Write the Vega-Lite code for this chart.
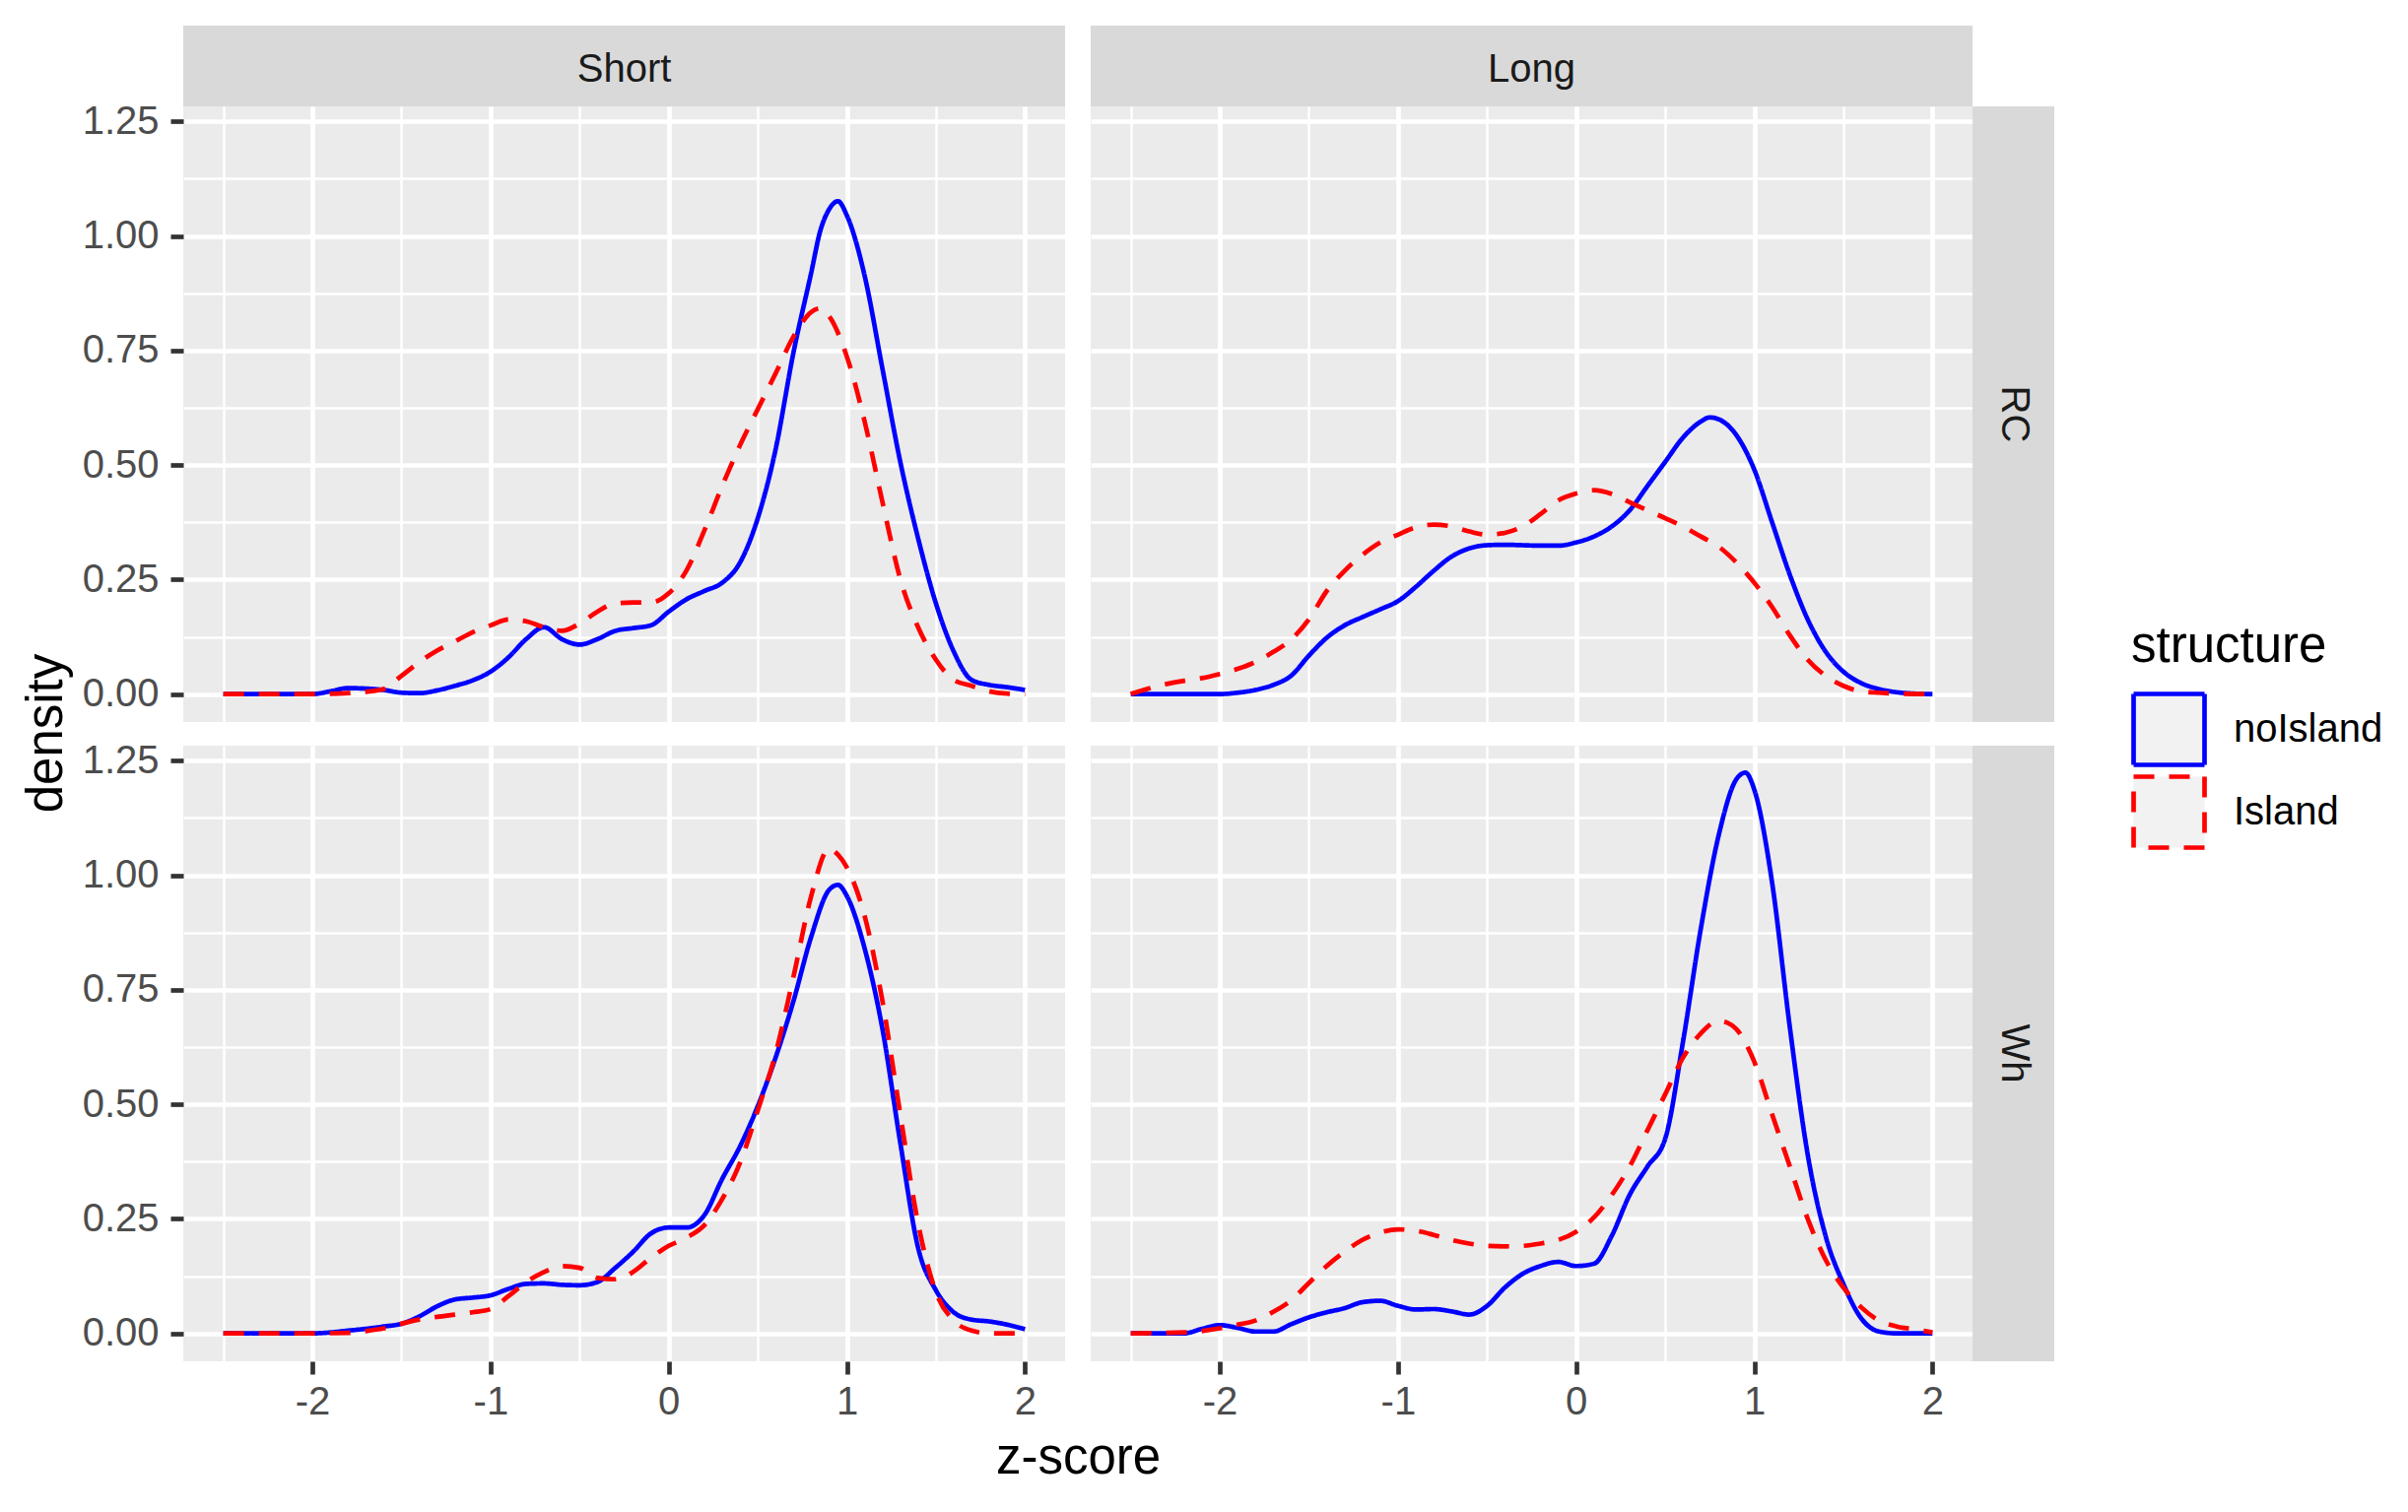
{
  "$schema": "https://vega.github.io/schema/vega-lite/v6.json",
  "padding": {"left": 21, "top": 26, "right": 0, "bottom": 0},
  "background": "white",
  "config": {
    "view": {"stroke": null},
    "font": "Liberation Sans",
    "axis": {
      "domain": false,
      "gridColor": "#FFFFFF",
      "gridOpacity": 1,
      "labelFont": "Liberation Sans",
      "labelFontSize": 40,
      "labelColor": "#4D4D4D",
      "tickColor": "#333333",
      "tickWidth": 4.7,
      "tickSize": 13,
      "titleFont": "Liberation Sans",
      "titleFontSize": 51,
      "titleFontWeight": "normal",
      "titleColor": "#000000"
    },
    "legend": {
      "orient": "none",
      "legendX": 1977,
      "legendY": 606,
      "padding": 0,
      "titleFont": "Liberation Sans",
      "titleFontSize": 51,
      "titleFontWeight": "normal",
      "titleColor": "#000000",
      "titlePadding": 19,
      "titleLimit": 600,
      "labelLimit": 600,
      "labelFont": "Liberation Sans",
      "labelFontSize": 40,
      "labelColor": "#000000",
      "labelOffset": 27,
      "symbolType": "square",
      "symbolSize": 5184,
      "symbolStrokeWidth": 4.7,
      "symbolFillColor": "#F2F2F2",
      "rowPadding": -11
    }
  },
  "datasets": {
    "short_rc": [
      {"structure":"noIsland","z":-2.5,"density":0},{"structure":"noIsland","z":-2.0,"density":0},{"structure":"noIsland","z":-1.9,"density":0.006},{"structure":"noIsland","z":-1.8,"density":0.013},{"structure":"noIsland","z":-1.7,"density":0.012},{"structure":"noIsland","z":-1.6,"density":0.009},{"structure":"noIsland","z":-1.5,"density":0.003},{"structure":"noIsland","z":-1.4,"density":0.002},{"structure":"noIsland","z":-1.3,"density":0.008},{"structure":"noIsland","z":-1.2,"density":0.018},{"structure":"noIsland","z":-1.1,"density":0.03},{"structure":"noIsland","z":-1.0,"density":0.049},{"structure":"noIsland","z":-0.9,"density":0.08},{"structure":"noIsland","z":-0.8,"density":0.12},{"structure":"noIsland","z":-0.7,"density":0.146},{"structure":"noIsland","z":-0.6,"density":0.12},{"structure":"noIsland","z":-0.5,"density":0.108},{"structure":"noIsland","z":-0.4,"density":0.12},{"structure":"noIsland","z":-0.3,"density":0.138},{"structure":"noIsland","z":-0.2,"density":0.144},{"structure":"noIsland","z":-0.1,"density":0.15},{"structure":"noIsland","z":0.0,"density":0.18},{"structure":"noIsland","z":0.1,"density":0.207},{"structure":"noIsland","z":0.2,"density":0.225},{"structure":"noIsland","z":0.3,"density":0.243},{"structure":"noIsland","z":0.4,"density":0.287},{"structure":"noIsland","z":0.5,"density":0.384},{"structure":"noIsland","z":0.6,"density":0.534},{"structure":"noIsland","z":0.7,"density":0.745},{"structure":"noIsland","z":0.8,"density":0.92},{"structure":"noIsland","z":0.85,"density":1.01},{"structure":"noIsland","z":0.9,"density":1.058},{"structure":"noIsland","z":0.95,"density":1.076},{"structure":"noIsland","z":1.0,"density":1.045},{"structure":"noIsland","z":1.1,"density":0.913},{"structure":"noIsland","z":1.2,"density":0.71},{"structure":"noIsland","z":1.3,"density":0.507},{"structure":"noIsland","z":1.4,"density":0.34},{"structure":"noIsland","z":1.5,"density":0.198},{"structure":"noIsland","z":1.6,"density":0.093},{"structure":"noIsland","z":1.7,"density":0.031},{"structure":"noIsland","z":1.8,"density":0.02},{"structure":"noIsland","z":1.9,"density":0.015},{"structure":"noIsland","z":2.0,"density":0.009},
      {"structure":"Island","z":-2.5,"density":0},{"structure":"Island","z":-2.0,"density":0},{"structure":"Island","z":-1.8,"density":0.002},{"structure":"Island","z":-1.7,"density":0.005},{"structure":"Island","z":-1.6,"density":0.011},{"structure":"Island","z":-1.5,"density":0.04},{"structure":"Island","z":-1.4,"density":0.07},{"structure":"Island","z":-1.3,"density":0.095},{"structure":"Island","z":-1.2,"density":0.115},{"structure":"Island","z":-1.1,"density":0.135},{"structure":"Island","z":-1.0,"density":0.15},{"structure":"Island","z":-0.9,"density":0.163},{"structure":"Island","z":-0.8,"density":0.159},{"structure":"Island","z":-0.7,"density":0.146},{"structure":"Island","z":-0.6,"density":0.138},{"structure":"Island","z":-0.5,"density":0.154},{"structure":"Island","z":-0.4,"density":0.18},{"structure":"Island","z":-0.3,"density":0.198},{"structure":"Island","z":-0.2,"density":0.2},{"structure":"Island","z":-0.1,"density":0.2},{"structure":"Island","z":0.0,"density":0.22},{"structure":"Island","z":0.1,"density":0.27},{"structure":"Island","z":0.2,"density":0.357},{"structure":"Island","z":0.3,"density":0.454},{"structure":"Island","z":0.4,"density":0.543},{"structure":"Island","z":0.5,"density":0.622},{"structure":"Island","z":0.6,"density":0.7},{"structure":"Island","z":0.7,"density":0.78},{"structure":"Island","z":0.8,"density":0.834},{"structure":"Island","z":0.85,"density":0.842},{"structure":"Island","z":0.9,"density":0.825},{"structure":"Island","z":1.0,"density":0.737},{"structure":"Island","z":1.1,"density":0.595},{"structure":"Island","z":1.2,"density":0.419},{"structure":"Island","z":1.3,"density":0.251},{"structure":"Island","z":1.4,"density":0.146},{"structure":"Island","z":1.5,"density":0.075},{"structure":"Island","z":1.6,"density":0.031},{"structure":"Island","z":1.7,"density":0.018},{"structure":"Island","z":1.8,"density":0.006},{"structure":"Island","z":1.9,"density":0.001},{"structure":"Island","z":2.0,"density":0}
    ],
    "long_rc": [
      {"structure":"noIsland","z":-2.5,"density":0},{"structure":"noIsland","z":-2.0,"density":0},{"structure":"noIsland","z":-1.9,"density":0.003},{"structure":"noIsland","z":-1.8,"density":0.009},{"structure":"noIsland","z":-1.7,"density":0.02},{"structure":"noIsland","z":-1.6,"density":0.04},{"structure":"noIsland","z":-1.5,"density":0.084},{"structure":"noIsland","z":-1.4,"density":0.123},{"structure":"noIsland","z":-1.3,"density":0.15},{"structure":"noIsland","z":-1.2,"density":0.168},{"structure":"noIsland","z":-1.1,"density":0.185},{"structure":"noIsland","z":-1.0,"density":0.203},{"structure":"noIsland","z":-0.9,"density":0.234},{"structure":"noIsland","z":-0.8,"density":0.269},{"structure":"noIsland","z":-0.7,"density":0.3},{"structure":"noIsland","z":-0.6,"density":0.318},{"structure":"noIsland","z":-0.5,"density":0.325},{"structure":"noIsland","z":-0.4,"density":0.326},{"structure":"noIsland","z":-0.3,"density":0.325},{"structure":"noIsland","z":-0.2,"density":0.324},{"structure":"noIsland","z":-0.1,"density":0.324},{"structure":"noIsland","z":0.0,"density":0.331},{"structure":"noIsland","z":0.1,"density":0.344},{"structure":"noIsland","z":0.2,"density":0.366},{"structure":"noIsland","z":0.3,"density":0.401},{"structure":"noIsland","z":0.4,"density":0.454},{"structure":"noIsland","z":0.5,"density":0.507},{"structure":"noIsland","z":0.6,"density":0.56},{"structure":"noIsland","z":0.7,"density":0.595},{"structure":"noIsland","z":0.75,"density":0.604},{"structure":"noIsland","z":0.8,"density":0.6},{"structure":"noIsland","z":0.9,"density":0.565},{"structure":"noIsland","z":1.0,"density":0.49},{"structure":"noIsland","z":1.1,"density":0.375},{"structure":"noIsland","z":1.2,"density":0.26},{"structure":"noIsland","z":1.3,"density":0.163},{"structure":"noIsland","z":1.4,"density":0.093},{"structure":"noIsland","z":1.5,"density":0.049},{"structure":"noIsland","z":1.6,"density":0.024},{"structure":"noIsland","z":1.7,"density":0.011},{"structure":"noIsland","z":1.8,"density":0.004},{"structure":"noIsland","z":1.9,"density":0.001},{"structure":"noIsland","z":2.0,"density":0},
      {"structure":"Island","z":-2.5,"density":0},{"structure":"Island","z":-2.4,"density":0.012},{"structure":"Island","z":-2.3,"density":0.022},{"structure":"Island","z":-2.2,"density":0.029},{"structure":"Island","z":-2.1,"density":0.035},{"structure":"Island","z":-2.0,"density":0.044},{"structure":"Island","z":-1.9,"density":0.055},{"structure":"Island","z":-1.8,"density":0.07},{"structure":"Island","z":-1.7,"density":0.092},{"structure":"Island","z":-1.6,"density":0.119},{"structure":"Island","z":-1.5,"density":0.163},{"structure":"Island","z":-1.4,"density":0.225},{"structure":"Island","z":-1.3,"density":0.269},{"structure":"Island","z":-1.2,"density":0.304},{"structure":"Island","z":-1.1,"density":0.331},{"structure":"Island","z":-1.0,"density":0.348},{"structure":"Island","z":-0.9,"density":0.364},{"structure":"Island","z":-0.8,"density":0.37},{"structure":"Island","z":-0.7,"density":0.366},{"structure":"Island","z":-0.6,"density":0.355},{"structure":"Island","z":-0.5,"density":0.348},{"structure":"Island","z":-0.4,"density":0.352},{"structure":"Island","z":-0.3,"density":0.366},{"structure":"Island","z":-0.2,"density":0.393},{"structure":"Island","z":-0.1,"density":0.423},{"structure":"Island","z":0.0,"density":0.438},{"structure":"Island","z":0.1,"density":0.445},{"structure":"Island","z":0.2,"density":0.437},{"structure":"Island","z":0.3,"density":0.419},{"structure":"Island","z":0.4,"density":0.401},{"structure":"Island","z":0.5,"density":0.384},{"structure":"Island","z":0.6,"density":0.366},{"structure":"Island","z":0.7,"density":0.344},{"structure":"Island","z":0.8,"density":0.322},{"structure":"Island","z":0.9,"density":0.287},{"structure":"Island","z":1.0,"density":0.243},{"structure":"Island","z":1.1,"density":0.19},{"structure":"Island","z":1.2,"density":0.128},{"structure":"Island","z":1.3,"density":0.075},{"structure":"Island","z":1.4,"density":0.04},{"structure":"Island","z":1.5,"density":0.018},{"structure":"Island","z":1.6,"density":0.006},{"structure":"Island","z":1.7,"density":0.003},{"structure":"Island","z":1.8,"density":0.001},{"structure":"Island","z":2.0,"density":0}
    ],
    "short_wh": [
      {"structure":"noIsland","z":-2.5,"density":0},{"structure":"noIsland","z":-2.0,"density":0},{"structure":"noIsland","z":-1.9,"density":0.002},{"structure":"noIsland","z":-1.8,"density":0.006},{"structure":"noIsland","z":-1.7,"density":0.01},{"structure":"noIsland","z":-1.6,"density":0.015},{"structure":"noIsland","z":-1.5,"density":0.021},{"structure":"noIsland","z":-1.4,"density":0.037},{"structure":"noIsland","z":-1.3,"density":0.059},{"structure":"noIsland","z":-1.2,"density":0.074},{"structure":"noIsland","z":-1.1,"density":0.078},{"structure":"noIsland","z":-1.0,"density":0.083},{"structure":"noIsland","z":-0.9,"density":0.097},{"structure":"noIsland","z":-0.8,"density":0.108},{"structure":"noIsland","z":-0.7,"density":0.109},{"structure":"noIsland","z":-0.6,"density":0.106},{"structure":"noIsland","z":-0.5,"density":0.105},{"structure":"noIsland","z":-0.4,"density":0.112},{"structure":"noIsland","z":-0.3,"density":0.143},{"structure":"noIsland","z":-0.2,"density":0.178},{"structure":"noIsland","z":-0.1,"density":0.218},{"structure":"noIsland","z":0.0,"density":0.231},{"structure":"noIsland","z":0.1,"density":0.231},{"structure":"noIsland","z":0.2,"density":0.258},{"structure":"noIsland","z":0.3,"density":0.337},{"structure":"noIsland","z":0.4,"density":0.408},{"structure":"noIsland","z":0.5,"density":0.496},{"structure":"noIsland","z":0.6,"density":0.602},{"structure":"noIsland","z":0.7,"density":0.725},{"structure":"noIsland","z":0.8,"density":0.866},{"structure":"noIsland","z":0.9,"density":0.968},{"structure":"noIsland","z":0.95,"density":0.979},{"structure":"noIsland","z":1.0,"density":0.955},{"structure":"noIsland","z":1.1,"density":0.84},{"structure":"noIsland","z":1.2,"density":0.664},{"structure":"noIsland","z":1.3,"density":0.416},{"structure":"noIsland","z":1.4,"density":0.187},{"structure":"noIsland","z":1.5,"density":0.094},{"structure":"noIsland","z":1.6,"density":0.046},{"structure":"noIsland","z":1.7,"density":0.03},{"structure":"noIsland","z":1.8,"density":0.026},{"structure":"noIsland","z":1.9,"density":0.019},{"structure":"noIsland","z":2.0,"density":0.009},
      {"structure":"Island","z":-2.5,"density":0},{"structure":"Island","z":-2.0,"density":0},{"structure":"Island","z":-1.8,"density":0.001},{"structure":"Island","z":-1.7,"density":0.005},{"structure":"Island","z":-1.6,"density":0.011},{"structure":"Island","z":-1.5,"density":0.021},{"structure":"Island","z":-1.4,"density":0.03},{"structure":"Island","z":-1.3,"density":0.036},{"structure":"Island","z":-1.2,"density":0.041},{"structure":"Island","z":-1.1,"density":0.046},{"structure":"Island","z":-1.0,"density":0.053},{"structure":"Island","z":-0.9,"density":0.081},{"structure":"Island","z":-0.8,"density":0.112},{"structure":"Island","z":-0.7,"density":0.134},{"structure":"Island","z":-0.6,"density":0.147},{"structure":"Island","z":-0.5,"density":0.143},{"structure":"Island","z":-0.4,"density":0.121},{"structure":"Island","z":-0.3,"density":0.118},{"structure":"Island","z":-0.2,"density":0.134},{"structure":"Island","z":-0.1,"density":0.165},{"structure":"Island","z":0.0,"density":0.191},{"structure":"Island","z":0.1,"density":0.209},{"structure":"Island","z":0.2,"density":0.236},{"structure":"Island","z":0.3,"density":0.293},{"structure":"Island","z":0.4,"density":0.372},{"structure":"Island","z":0.5,"density":0.487},{"structure":"Island","z":0.6,"density":0.611},{"structure":"Island","z":0.7,"density":0.778},{"structure":"Island","z":0.8,"density":0.955},{"structure":"Island","z":0.9,"density":1.058},{"structure":"Island","z":0.95,"density":1.045},{"structure":"Island","z":1.0,"density":1.017},{"structure":"Island","z":1.1,"density":0.911},{"structure":"Island","z":1.2,"density":0.725},{"structure":"Island","z":1.3,"density":0.478},{"structure":"Island","z":1.4,"density":0.24},{"structure":"Island","z":1.5,"density":0.09},{"structure":"Island","z":1.6,"density":0.028},{"structure":"Island","z":1.7,"density":0.006},{"structure":"Island","z":1.8,"density":0},{"structure":"Island","z":2.0,"density":0}
    ],
    "long_wh": [
      {"structure":"noIsland","z":-2.5,"density":0},{"structure":"noIsland","z":-2.2,"density":0},{"structure":"noIsland","z":-2.1,"density":0.01},{"structure":"noIsland","z":-2.0,"density":0.018},{"structure":"noIsland","z":-1.9,"density":0.012},{"structure":"noIsland","z":-1.8,"density":0.004},{"structure":"noIsland","z":-1.7,"density":0.004},{"structure":"noIsland","z":-1.6,"density":0.02},{"structure":"noIsland","z":-1.5,"density":0.035},{"structure":"noIsland","z":-1.4,"density":0.046},{"structure":"noIsland","z":-1.3,"density":0.055},{"structure":"noIsland","z":-1.2,"density":0.068},{"structure":"noIsland","z":-1.1,"density":0.071},{"structure":"noIsland","z":-1.0,"density":0.06},{"structure":"noIsland","z":-0.9,"density":0.052},{"structure":"noIsland","z":-0.8,"density":0.053},{"structure":"noIsland","z":-0.7,"density":0.048},{"structure":"noIsland","z":-0.6,"density":0.041},{"structure":"noIsland","z":-0.5,"density":0.06},{"structure":"noIsland","z":-0.4,"density":0.1},{"structure":"noIsland","z":-0.3,"density":0.13},{"structure":"noIsland","z":-0.2,"density":0.147},{"structure":"noIsland","z":-0.1,"density":0.156},{"structure":"noIsland","z":0.0,"density":0.147},{"structure":"noIsland","z":0.1,"density":0.152},{"structure":"noIsland","z":0.2,"density":0.213},{"structure":"noIsland","z":0.3,"density":0.302},{"structure":"noIsland","z":0.4,"density":0.364},{"structure":"noIsland","z":0.5,"density":0.425},{"structure":"noIsland","z":0.6,"density":0.637},{"structure":"noIsland","z":0.7,"density":0.884},{"structure":"noIsland","z":0.8,"density":1.087},{"structure":"noIsland","z":0.9,"density":1.21},{"structure":"noIsland","z":0.95,"density":1.224},{"structure":"noIsland","z":1.0,"density":1.187},{"structure":"noIsland","z":1.1,"density":0.984},{"structure":"noIsland","z":1.2,"density":0.667},{"structure":"noIsland","z":1.3,"density":0.39},{"structure":"noIsland","z":1.4,"density":0.213},{"structure":"noIsland","z":1.5,"density":0.108},{"structure":"noIsland","z":1.6,"density":0.033},{"structure":"noIsland","z":1.7,"density":0.004},{"structure":"noIsland","z":1.8,"density":0},{"structure":"noIsland","z":2.0,"density":0},
      {"structure":"Island","z":-2.5,"density":0},{"structure":"Island","z":-2.2,"density":0.002},{"structure":"Island","z":-2.0,"density":0.011},{"structure":"Island","z":-1.9,"density":0.019},{"structure":"Island","z":-1.8,"density":0.028},{"structure":"Island","z":-1.7,"density":0.047},{"structure":"Island","z":-1.6,"density":0.072},{"structure":"Island","z":-1.5,"density":0.11},{"structure":"Island","z":-1.4,"density":0.147},{"structure":"Island","z":-1.3,"density":0.178},{"structure":"Island","z":-1.2,"density":0.204},{"structure":"Island","z":-1.1,"density":0.22},{"structure":"Island","z":-1.0,"density":0.227},{"structure":"Island","z":-0.9,"density":0.224},{"structure":"Island","z":-0.8,"density":0.215},{"structure":"Island","z":-0.7,"density":0.204},{"structure":"Island","z":-0.6,"density":0.196},{"structure":"Island","z":-0.5,"density":0.191},{"structure":"Island","z":-0.4,"density":0.19},{"structure":"Island","z":-0.3,"density":0.191},{"structure":"Island","z":-0.2,"density":0.196},{"structure":"Island","z":-0.1,"density":0.204},{"structure":"Island","z":0.0,"density":0.222},{"structure":"Island","z":0.1,"density":0.253},{"structure":"Island","z":0.2,"density":0.302},{"structure":"Island","z":0.3,"density":0.364},{"structure":"Island","z":0.4,"density":0.443},{"structure":"Island","z":0.5,"density":0.522},{"structure":"Island","z":0.6,"density":0.602},{"structure":"Island","z":0.7,"density":0.655},{"structure":"Island","z":0.8,"density":0.682},{"structure":"Island","z":0.85,"density":0.678},{"structure":"Island","z":0.9,"density":0.664},{"structure":"Island","z":1.0,"density":0.593},{"structure":"Island","z":1.1,"density":0.478},{"structure":"Island","z":1.2,"density":0.364},{"structure":"Island","z":1.3,"density":0.25},{"structure":"Island","z":1.4,"density":0.161},{"structure":"Island","z":1.5,"density":0.1},{"structure":"Island","z":1.6,"density":0.057},{"structure":"Island","z":1.7,"density":0.028},{"structure":"Island","z":1.8,"density":0.015},{"structure":"Island","z":1.9,"density":0.009},{"structure":"Island","z":2.0,"density":0.002}
    ]
  },
  "concat": [
    {"width": 895, "height": 82, "view": {"fill": "#D9D9D9", "stroke": null}, "data": {"values": [{"label": "Short"}]}, "mark": {"type": "text", "fontSize": 40, "color": "#1A1A1A", "font": "Liberation Sans", "baseline": "middle", "align": "center", "dy": 4}, "encoding": {"text": {"field": "label", "type": "nominal"}}},
    {"width": 26, "height": 1, "data": {"values": []}, "mark": "point"},
    {"width": 895, "height": 82, "view": {"fill": "#D9D9D9", "stroke": null}, "data": {"values": [{"label": "Long"}]}, "mark": {"type": "text", "fontSize": 40, "color": "#1A1A1A", "font": "Liberation Sans", "baseline": "middle", "align": "center", "dy": 4}, "encoding": {"text": {"field": "label", "type": "nominal"}}},
    {"width": 83, "height": 1, "data": {"values": []}, "mark": "point"},

    {"width": 895, "height": 625, "view": {"fill": "#EBEBEB", "stroke": null}, "data": {"name": "short_rc"},
     "mark": {"type": "line", "strokeWidth": 4.7, "interpolate": "monotone", "clip": true},
     "encoding": {
       "x": {"field": "z", "type": "quantitative", "scale": {"domain": [-2.725, 2.225], "nice": false, "zero": false},
             "axis": {"values": [-2.5,-2,-1.5,-1,-0.5,0,0.5,1,1.5,2], "labels": false, "ticks": false, "title": null,
                      "gridWidth": {"condition": {"test": "datum.value % 1 !== 0", "value": 2.4}, "value": 4.7}}},
       "y": {"field": "density", "type": "quantitative", "scale": {"domain": [-0.061, 1.283], "nice": false, "zero": false},
             "axis": {"values": [0,0.125,0.25,0.375,0.5,0.625,0.75,0.875,1,1.125,1.25], "format": ".2f",
                      "labelExpr": "(datum.value*8) % 2 === 0 ? datum.label : ''", "labelOverlap": false, "labelPadding": 12,
                      "tickOpacity": {"condition": {"test": "(datum.value*8) % 2 !== 0", "value": 0}, "value": 1},
                      "gridWidth": {"condition": {"test": "(datum.value*8) % 2 !== 0", "value": 2.4}, "value": 4.7},
                      "title": "density", "titleY": 636, "titlePadding": 10}},
       "color": {"field": "structure", "type": "nominal", "title": "structure", "scale": {"domain": ["noIsland", "Island"], "range": ["#0000FF", "#FF0000"]}},
       "strokeDash": {"field": "structure", "type": "nominal", "title": "structure", "scale": {"domain": ["noIsland", "Island"], "range": [[1, 0], [21, 15]]}}
     }},
    {"width": 26, "height": 1, "data": {"values": []}, "mark": "point"},
    {"width": 895, "height": 625, "view": {"fill": "#EBEBEB", "stroke": null}, "data": {"name": "long_rc"},
     "mark": {"type": "line", "strokeWidth": 4.7, "interpolate": "monotone", "clip": true},
     "encoding": {
       "x": {"field": "z", "type": "quantitative", "scale": {"domain": [-2.725, 2.225], "nice": false, "zero": false},
             "axis": {"values": [-2.5,-2,-1.5,-1,-0.5,0,0.5,1,1.5,2], "labels": false, "ticks": false, "title": null,
                      "gridWidth": {"condition": {"test": "datum.value % 1 !== 0", "value": 2.4}, "value": 4.7}}},
       "y": {"field": "density", "type": "quantitative", "scale": {"domain": [-0.061, 1.283], "nice": false, "zero": false},
             "axis": {"values": [0,0.125,0.25,0.375,0.5,0.625,0.75,0.875,1,1.125,1.25], "labels": false, "ticks": false, "title": null,
                      "gridWidth": {"condition": {"test": "(datum.value*8) % 2 !== 0", "value": 2.4}, "value": 4.7}}},
       "color": {"field": "structure", "type": "nominal", "title": "structure", "scale": {"domain": ["noIsland", "Island"], "range": ["#0000FF", "#FF0000"]}},
       "strokeDash": {"field": "structure", "type": "nominal", "title": "structure", "scale": {"domain": ["noIsland", "Island"], "range": [[1, 0], [21, 15]]}}
     }},
    {"width": 83, "height": 625, "view": {"fill": "#D9D9D9", "stroke": null}, "data": {"values": [{"label": "RC"}]}, "mark": {"type": "text", "fontSize": 40, "color": "#1A1A1A", "font": "Liberation Sans", "baseline": "middle", "align": "center", "angle": 90}, "encoding": {"text": {"field": "label", "type": "nominal"}}},

    {"width": 1, "height": 24, "data": {"values": []}, "mark": "point"},
    {"width": 1, "height": 24, "data": {"values": []}, "mark": "point"},
    {"width": 1, "height": 24, "data": {"values": []}, "mark": "point"},
    {"width": 1, "height": 24, "data": {"values": []}, "mark": "point"},

    {"width": 895, "height": 625, "view": {"fill": "#EBEBEB", "stroke": null}, "data": {"name": "short_wh"},
     "mark": {"type": "line", "strokeWidth": 4.7, "interpolate": "monotone", "clip": true},
     "encoding": {
       "x": {"field": "z", "type": "quantitative", "scale": {"domain": [-2.725, 2.225], "nice": false, "zero": false},
             "axis": {"values": [-2.5,-2,-1.5,-1,-0.5,0,0.5,1,1.5,2],
                      "labelExpr": "datum.value % 1 === 0 ? toString(datum.value) : ''", "labelOverlap": false, "labelFlush": false, "labelPadding": 8,
                      "tickOpacity": {"condition": {"test": "datum.value % 1 !== 0", "value": 0}, "value": 1},
                      "gridWidth": {"condition": {"test": "datum.value % 1 !== 0", "value": 2.4}, "value": 4.7},
                      "title": "z-score", "titleX": 908, "titlePadding": 12}},
       "y": {"field": "density", "type": "quantitative", "scale": {"domain": [-0.061, 1.283], "nice": false, "zero": false},
             "axis": {"values": [0,0.125,0.25,0.375,0.5,0.625,0.75,0.875,1,1.125,1.25], "format": ".2f",
                      "labelExpr": "(datum.value*8) % 2 === 0 ? datum.label : ''", "labelOverlap": false, "labelPadding": 12,
                      "tickOpacity": {"condition": {"test": "(datum.value*8) % 2 !== 0", "value": 0}, "value": 1},
                      "gridWidth": {"condition": {"test": "(datum.value*8) % 2 !== 0", "value": 2.4}, "value": 4.7},
                      "title": null}},
       "color": {"field": "structure", "type": "nominal", "title": "structure", "scale": {"domain": ["noIsland", "Island"], "range": ["#0000FF", "#FF0000"]}},
       "strokeDash": {"field": "structure", "type": "nominal", "title": "structure", "scale": {"domain": ["noIsland", "Island"], "range": [[1, 0], [21, 15]]}}
     }},
    {"width": 26, "height": 1, "data": {"values": []}, "mark": "point"},
    {"width": 895, "height": 625, "view": {"fill": "#EBEBEB", "stroke": null}, "data": {"name": "long_wh"},
     "mark": {"type": "line", "strokeWidth": 4.7, "interpolate": "monotone", "clip": true},
     "encoding": {
       "x": {"field": "z", "type": "quantitative", "scale": {"domain": [-2.725, 2.225], "nice": false, "zero": false},
             "axis": {"values": [-2.5,-2,-1.5,-1,-0.5,0,0.5,1,1.5,2],
                      "labelExpr": "datum.value % 1 === 0 ? toString(datum.value) : ''", "labelOverlap": false, "labelFlush": false, "labelPadding": 8,
                      "tickOpacity": {"condition": {"test": "datum.value % 1 !== 0", "value": 0}, "value": 1},
                      "gridWidth": {"condition": {"test": "datum.value % 1 !== 0", "value": 2.4}, "value": 4.7},
                      "title": null}},
       "y": {"field": "density", "type": "quantitative", "scale": {"domain": [-0.061, 1.283], "nice": false, "zero": false},
             "axis": {"values": [0,0.125,0.25,0.375,0.5,0.625,0.75,0.875,1,1.125,1.25], "labels": false, "ticks": false, "title": null,
                      "gridWidth": {"condition": {"test": "(datum.value*8) % 2 !== 0", "value": 2.4}, "value": 4.7}}},
       "color": {"field": "structure", "type": "nominal", "title": "structure", "scale": {"domain": ["noIsland", "Island"], "range": ["#0000FF", "#FF0000"]}},
       "strokeDash": {"field": "structure", "type": "nominal", "title": "structure", "scale": {"domain": ["noIsland", "Island"], "range": [[1, 0], [21, 15]]}}
     }},
    {"width": 83, "height": 625, "view": {"fill": "#D9D9D9", "stroke": null}, "data": {"values": [{"label": "Wh"}]}, "mark": {"type": "text", "fontSize": 40, "color": "#1A1A1A", "font": "Liberation Sans", "baseline": "middle", "align": "center", "angle": 90}, "encoding": {"text": {"field": "label", "type": "nominal"}}}
  ],
  "columns": 4,
  "spacing": 0,
  "bounds": "flush",
  "align": "each"
}
